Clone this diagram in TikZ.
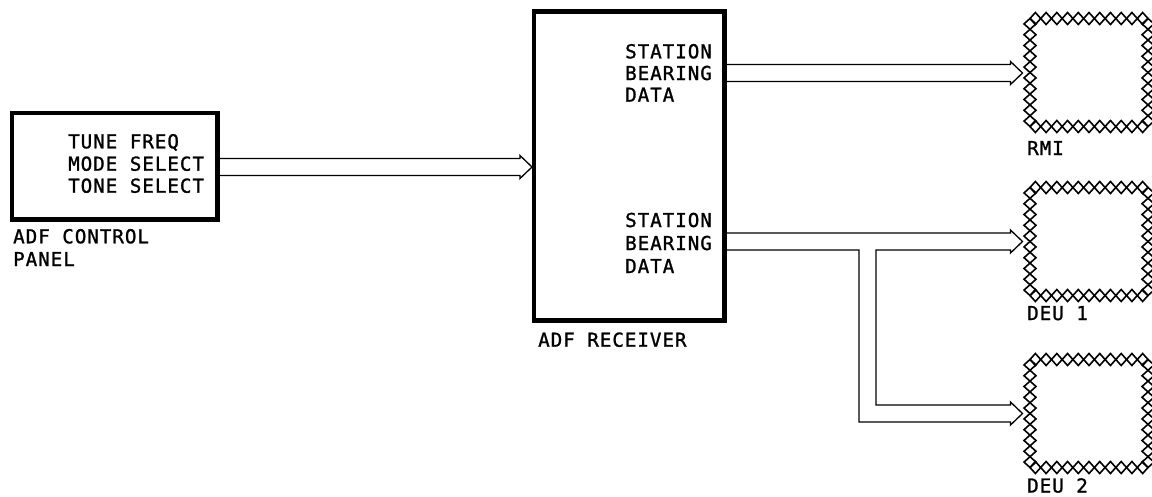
\documentclass[tikz,border=0pt]{standalone}
\usepackage{fontspec}
\newfontfamily\lblfont[LetterSpace=5,FakeBold=1.2]{DejaVu Sans Mono}
\usetikzlibrary{calc}
\tikzset{
  blockbox/.style={draw, line width=4.5pt, inner sep=0pt, outer sep=0pt},
  unitbox/.style={inner sep=0pt, outer sep=0pt, minimum width=118pt, minimum height=108pt},
  lbl/.style={font=\lblfont\fontsize{19.2}{22}\selectfont, anchor=base west, inner sep=0pt},
  sig/.style={line width=1.3pt, line join=miter},
  chain/.style={line width=1.6pt, line join=miter}
}
\newcommand\chainbox[1]{%
  \def\hp{10.727}\def\vp{10.8}\def\hh{6}%
  \foreach \i in {0,...,10}{%
    \draw[chain] ($(#1.north west)+(\i*\hp,0)$) -- ++(\hp/2,\hh) -- ++(\hp/2,-\hh) -- ++(-\hp/2,-\hh) -- cycle;
    \draw[chain] ($(#1.south west)+(\i*\hp,0)$) -- ++(\hp/2,\hh) -- ++(\hp/2,-\hh) -- ++(-\hp/2,-\hh) -- cycle;
  }%
  \foreach \i in {0,...,9}{%
    \draw[chain] ($(#1.north west)+(0,\i*\vp)$) -- ++(\hh,\vp/2) -- ++(-\hh,\vp/2) -- ++(-\hh,-\vp/2) -- cycle;
    \draw[chain] ($(#1.north east)+(0,\i*\vp)$) -- ++(\hh,\vp/2) -- ++(-\hh,\vp/2) -- ++(-\hh,-\vp/2) -- cycle;
  }%
}
% hollow arrow head outline pieces: w = half shaft, f = half head, L = head length
\def\sw{8.5}\def\sf{11.5}\def\sL{12}
\begin{document}
\begin{tikzpicture}[x=1pt,y=-1pt]
\useasboundingbox (0,0) rectangle (1152,496);
\fill[white] (0,0) rectangle (1152,496);

% blocks
\node[blockbox, minimum width=205.5pt, minimum height=106.5pt] (panel) at (114.5,166) {};
\node[blockbox, minimum width=190.5pt, minimum height=309pt] (recv) at (629.25,166) {};
\node[unitbox] (rmi)  at (1089,72.5) {};
\node[unitbox] (deu1) at (1089,241.5) {};
\node[unitbox] (deu2) at (1089,413.5) {};
\chainbox{rmi}
\chainbox{deu1}
\chainbox{deu2}

% labels
\node[lbl] (t1) at (68,148.3) {TUNE FREQ};
\node[lbl] (t2) at (68,170.7) {MODE SELECT};
\node[lbl] (t3) at (68,192.7) {TONE SELECT};
\node[lbl] (pl1) at (13,243.3) {ADF CONTROL};
\node[lbl] (pl2) at (13,266) {PANEL};
\node[lbl] (s1) at (625,58.3) {STATION};
\node[lbl] (s2) at (625,80) {BEARING};
\node[lbl] (s3) at (625,101.7) {DATA};
\node[lbl] (s4) at (625,227) {STATION};
\node[lbl] (s5) at (625,250) {BEARING};
\node[lbl] (s6) at (625,273) {DATA};
\node[lbl] (rl) at (538,346.7) {ADF RECEIVER};
\node[lbl] (ml) at (1027,155) {RMI};
\node[lbl] (d1l) at (1027,320) {DEU 1};
\node[lbl] (d2l) at (1027,492.5) {DEU 2};

% connectors
\coordinate (tipA) at ($(recv.west)+(-2,1)$);
\coordinate (srcA) at ($(panel.east)+(0,1)$);
\draw[sig] ($(srcA)+(0,-\sw)$) -- ($(tipA)+(-\sL,-\sw)$) -- ($(tipA)+(-\sL,-\sf)$) -- (tipA)
  -- ($(tipA)+(-\sL,\sf)$) -- ($(tipA)+(-\sL,\sw)$) -- ($(srcA)+(0,\sw)$);

\coordinate (tipB) at ($(rmi.west)+(-7.5,0.5)$);
\coordinate (srcB) at (recv.east |- tipB);
\draw[sig] ($(srcB)+(0,-\sw)$) -- ($(tipB)+(-\sL,-\sw)$) -- ($(tipB)+(-\sL,-\sf)$) -- (tipB)
  -- ($(tipB)+(-\sL,\sf)$) -- ($(tipB)+(-\sL,\sw)$) -- ($(srcB)+(0,\sw)$);

\coordinate (tipC) at ($(deu1.west)+(-7.5,0)$);
\coordinate (tipD) at ($(deu2.west)+(-7.5,0)$);
\coordinate (srcC) at (recv.east |- tipC);
\coordinate (br) at (867.5,0);
\draw[sig] ($(srcC)+(0,-\sw)$) -- ($(tipC)+(-\sL,-\sw)$) -- ($(tipC)+(-\sL,-\sf)$) -- (tipC)
  -- ($(tipC)+(-\sL,\sf)$) -- ($(tipC)+(-\sL,\sw)$)
  -- ($(br |- tipC)+(\sw,\sw)$) -- ($(br |- tipD)+(\sw,-\sw)$)
  -- ($(tipD)+(-\sL,-\sw)$) -- ($(tipD)+(-\sL,-\sf)$) -- (tipD)
  -- ($(tipD)+(-\sL,\sf)$) -- ($(tipD)+(-\sL,\sw)$)
  -- ($(br |- tipD)+(-\sw,\sw)$) -- ($(br |- tipC)+(-\sw,\sw)$) -- ($(srcC)+(0,\sw)$);
\end{tikzpicture}
\end{document}
